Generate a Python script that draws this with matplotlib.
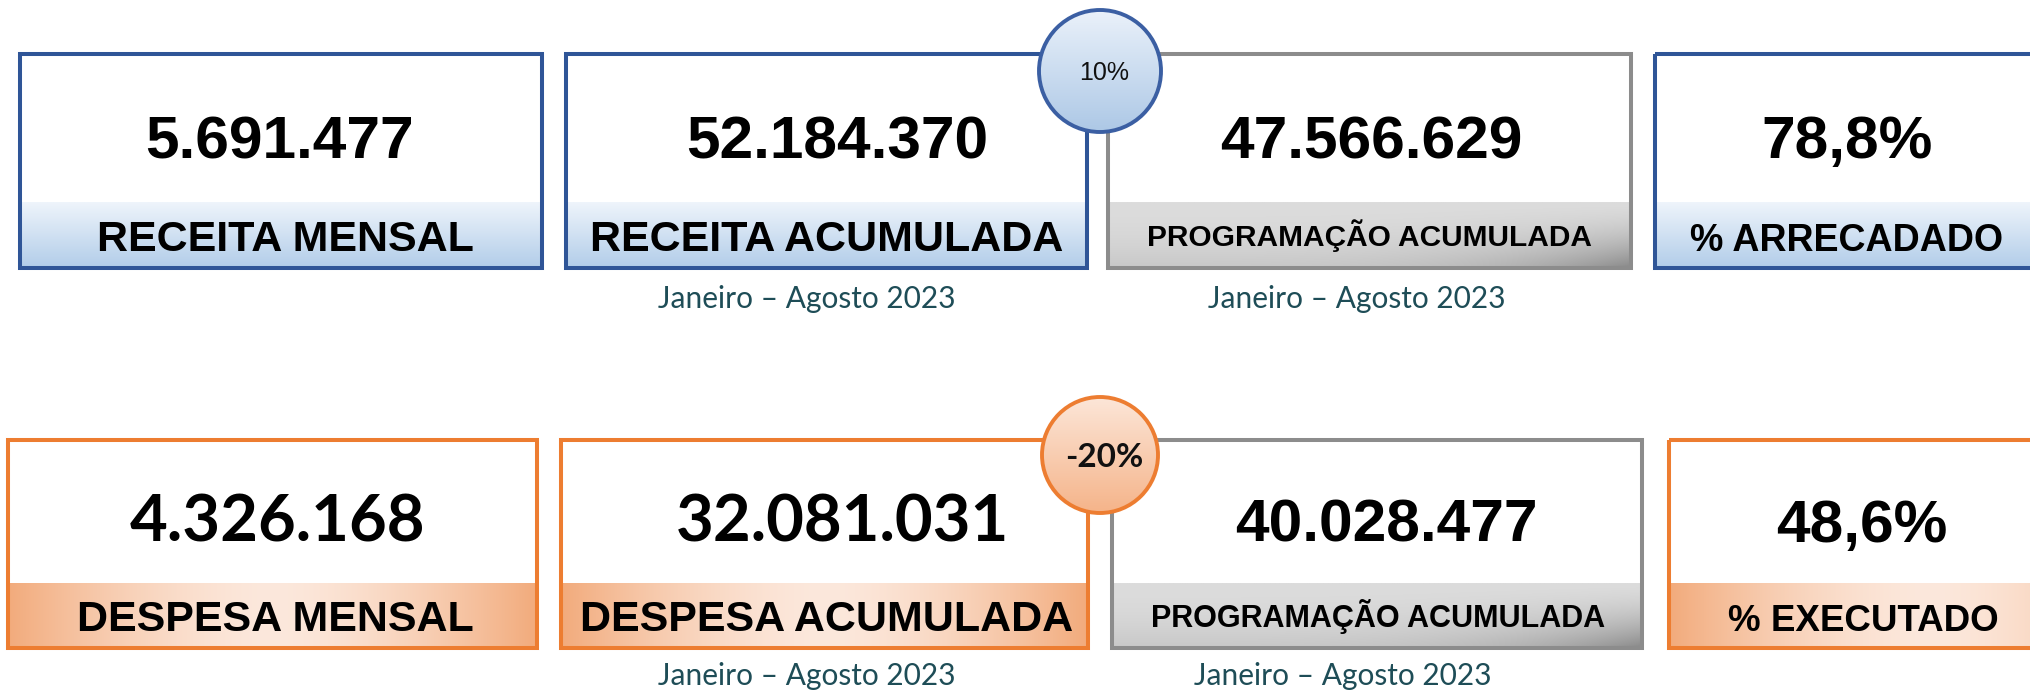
import numpy as np
import matplotlib
matplotlib.use("Agg")
import matplotlib.pyplot as plt
from matplotlib.patches import Rectangle, Circle
from matplotlib.colors import to_rgb

# ---------------- data ----------------
top_values = ["5.691.477", "52.184.370", "47.566.629", "78,8%"]
top_labels = ["RECEITA MENSAL", "RECEITA ACUMULADA", "PROGRAMAÇÃO ACUMULADA", "% ARRECADADO"]
bottom_values = ["4.326.168", "32.081.031", "40.028.477", "48,6%"]
bottom_labels = ["DESPESA MENSAL", "DESPESA ACUMULADA", "PROGRAMAÇÃO ACUMULADA", "% EXECUTADO"]
top_change = "10%"
bottom_change = "-20%"
period_label = "Janeiro – Agosto 2023"

# ---------------- layout (pixels) ----------------
W, H = 2030, 691
fig = plt.figure(figsize=(W / 100, H / 100), dpi=100)
ax = fig.add_axes([0, 0, 1, 1])
ax.axis("off")

ARIAL = ["Liberation Sans", "DejaVu Sans"]
CALIBRI = ["Lato", "DejaVu Sans"]

BLUE = "#2F5597"
ORANGE = "#ED7D31"
GREY = "#8C8C8C"
TEAL = "#1E4D57"
LW = 2.9  # ~4 px


def lerp(c1, c2, t):
    c1 = np.array(to_rgb(c1)); c2 = np.array(to_rgb(c2))
    t = np.clip(t, 0, 1)[..., None]
    return c1 * (1 - t) + c2 * t


def band_blue(n=60, m=200):
    yf = np.linspace(0, 1, n)[:, None] * np.ones((1, m))
    return lerp("#EEF4FB", "#B2CDE9", yf)


def band_grey(n=60, m=200):
    yf = np.linspace(0, 1, n)[:, None] * np.ones((1, m))
    xf = np.ones((n, 1)) * np.linspace(0, 1, m)[None, :]
    f = 0.25 * yf ** 2 + 0.75 * (yf ** 1.5) * (xf ** 4)
    return lerp("#DCDCDC", "#8A8A8A", f)


def band_orange(n=60, m=200):
    xf = np.ones((n, 1)) * np.linspace(0, 1, m)[None, :]
    f = (np.abs(xf - 0.5) * 2) ** 1.6
    return lerp("#FCE8DC", "#F2AB7C", f)


def draw_box(x0, x1, y0, y1, band_top, edge, band_img, z=1):
    ax.add_patch(Rectangle((x0, y0), x1 - x0, y1 - y0, facecolor="white",
                           edgecolor="none", zorder=z))
    ax.imshow(band_img, extent=(x0, x1, y1, band_top), origin="upper",
              aspect="auto", interpolation="bilinear", zorder=z + 0.1)
    ax.add_patch(Rectangle((x0, y0), x1 - x0, y1 - y0, facecolor="none",
                           edgecolor=edge, lw=LW, zorder=z + 0.2))


def draw_badge(cx, cy, r, edge, ctop, cbot, text, font, size, weight, base_y):
    yf = np.linspace(0, 1, 80)[:, None] * np.ones((1, 80))
    img = lerp(ctop, cbot, yf)
    circ = Circle((cx, cy), r, facecolor="none", edgecolor=edge, lw=2.8, zorder=6)
    im = ax.imshow(img, extent=(cx - r, cx + r, cy + r, cy - r), origin="upper",
                   aspect="auto", interpolation="bilinear", zorder=5)
    ax.add_patch(circ)
    im.set_clip_path(circ)
    ax.text(cx + 4, base_y, text, family=font, size=size, weight=weight,
            ha="center", va="baseline", color="#111111", zorder=7)


# ---- top row ----
top_x0 = [20, 566, 1108, 1655]
top_x1 = [542, 1087, 1631, 2177]
ty0, ty1, tband = 54, 268, 202
top_edges = [BLUE, BLUE, GREY, BLUE]
top_bands = [band_blue, band_blue, band_grey, band_blue]
top_num_x = [279, 837, 1371, 1847]
top_lab_x = [285, 827, 1370, 1847]
top_lab_size = [31, 31, 21.5, 27]

for i in range(4):
    draw_box(top_x0[i], top_x1[i], ty0, ty1, tband, top_edges[i], top_bands[i]())
    ax.text(top_num_x[i], 158, top_values[i], family=ARIAL, weight="bold",
            size=43.5, ha="center", va="baseline", color="black", zorder=4)
    ax.text(top_lab_x[i], 251 if i != 2 else 246, top_labels[i], family=ARIAL,
            weight="bold", size=top_lab_size[i], ha="center", va="baseline",
            color="black", zorder=4)

# ---- bottom row ----
bot_x0 = [8, 561, 1112, 1669]
bot_x1 = [537, 1088, 1642, 2190]
by0, by1, bband = 440, 648, 583
bot_edges = [ORANGE, ORANGE, GREY, ORANGE]
bot_bands = [band_orange, band_orange, band_grey, band_orange]
bot_num_x = [277, 843, 1386, 1862]
bot_num_font = [CALIBRI, CALIBRI, ARIAL, ARIAL]
bot_num_size = [47, 47, 43.5, 43.5]
bot_lab_x = [275, 827, 1378, 1863]
bot_lab_size = [31, 31, 22, 26.5]

for i in range(4):
    draw_box(bot_x0[i], bot_x1[i], by0, by1, bband, bot_edges[i], bot_bands[i]())
    ax.text(bot_num_x[i], 542, bottom_values[i], family=bot_num_font[i], weight="bold",
            size=bot_num_size[i], ha="center", va="baseline", color="black", zorder=4)
    ax.text(bot_lab_x[i], 631 if i != 2 else 627, bottom_labels[i], family=ARIAL,
            weight="bold", size=bot_lab_size[i], ha="center", va="baseline",
            color="black", zorder=4)

# ---- badges ----
draw_badge(1100, 71, 61, "#3B5FA3", "#EAF1FA", "#ADC8E6", top_change,
           ARIAL, 18, "normal", 80)
draw_badge(1100, 455, 58, ORANGE, "#FCE6D8", "#F5B48A", bottom_change,
           CALIBRI, 24, "bold", 467)

# ---- period captions ----
for x, y in [(807, 308), (1357, 308), (807, 685), (1343, 685)]:
    ax.text(x, y, period_label, family=CALIBRI, size=21.5, ha="center",
            va="baseline", color=TEAL, zorder=4)

ax.set_xlim(0, W)
ax.set_ylim(H, 0)
fig.savefig("out.png", dpi=100, facecolor="white")
